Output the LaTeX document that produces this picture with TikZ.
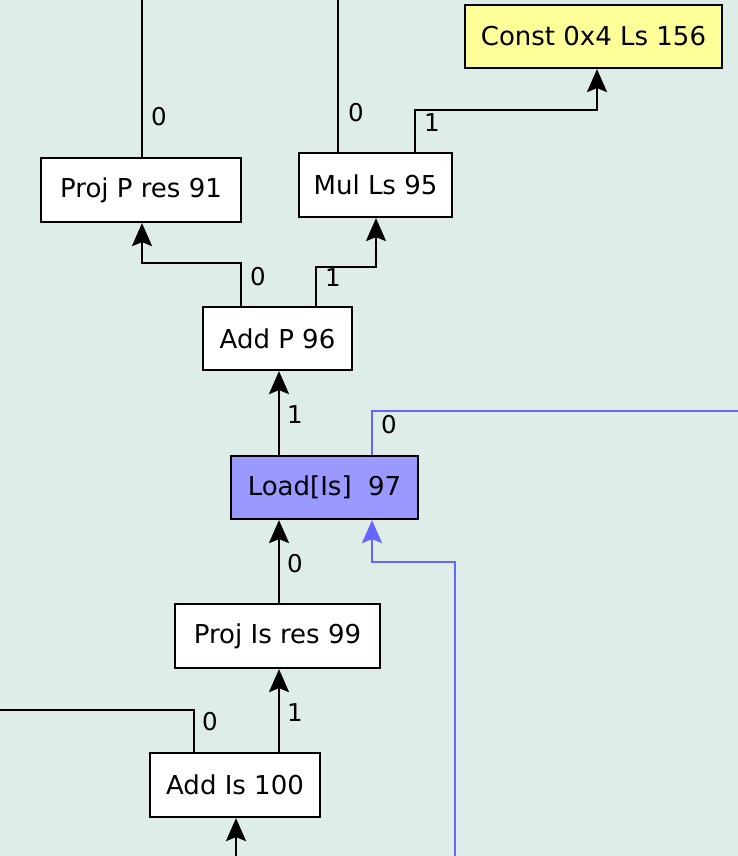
\documentclass[tikz,border=0pt]{standalone}
\usepackage{fontspec}
\setmainfont{DejaVu Sans}
\usetikzlibrary{arrows.meta}
\definecolor{bg}{RGB}{222,237,231}
\definecolor{yel}{RGB}{255,255,153}
\definecolor{lblue}{RGB}{153,153,255}
\definecolor{eblue}{RGB}{102,102,255}
\tikzset{
  box/.style={draw=black, line width=2.2pt, inner sep=0pt, fill=white,
    font=\fontsize{26}{30}\selectfont},
  lbl/.style={inner sep=0pt, font=\fontsize{24.5}{28}\selectfont},
  edge/.style={draw=black, line width=2.2pt},
  arr/.style={edge, -{Stealth[length=23pt, width=20pt, inset=4pt]}},
  bedge/.style={draw=eblue, line width=2.2pt},
  barr/.style={bedge, -{Stealth[length=23pt, width=20pt, inset=4pt]}},
}
\begin{document}
\begin{tikzpicture}[x=1pt, y=-1pt]
\useasboundingbox (0,0) rectangle (738,856);
\fill[bg] (0,0) rectangle (738,856);
\clip (0,0) rectangle (738,856);
% nodes
\node[box, fill=yel, minimum width=257pt, minimum height=63pt] (const) at (593.5,36.5) {Const 0x4 Ls 156};
\node[box, minimum width=200pt, minimum height=64pt] (projp) at (141,190) {Proj P res 91};
\node[box, minimum width=153pt, minimum height=64pt] (mul) at (375.5,185) {Mul Ls 95};
\node[box, minimum width=149pt, minimum height=63pt] (addp) at (277.5,338.5) {Add P 96};
\node[box, fill=lblue, minimum width=187pt, minimum height=63pt] (load) at (324.5,487.5) {Load[Is]\ \ 97};
\node[box, minimum width=205pt, minimum height=64pt] (projis) at (277.5,636) {Proj Is res 99};
\node[box, minimum width=170pt, minimum height=64pt] (addis) at (235,785) {Add Is 100};
% x positions
\coordinate (x142) at (142,0);
\coordinate (x338) at (338,0);
\coordinate (x415) at (415,0);
\coordinate (x597) at (597,0);
\coordinate (x241) at (241,0);
\coordinate (x316) at (316,0);
\coordinate (x376) at (376,0);
\coordinate (x279) at (279,0);
\coordinate (x372) at (372,0);
\coordinate (x194) at (194,0);
\coordinate (t1) at (142,-4);
\coordinate (t2) at (338,-4);
\coordinate (b1) at (455,860);
\coordinate (b2) at (236,860);
% edges
\draw[edge] (projp.north -| t1) -- (t1);
\draw[edge] (mul.north -| t2) -- (t2);
\draw[arr] (mul.north -| x415) -- ++(0,-42) -| (const.south -| x597);
\draw[arr] (addp.north -| x241) -- ++(0,-43) -| (projp.south -| x142);
\draw[arr] (addp.north -| x316) -- ++(0,-39) -| (mul.south -| x376);
\draw[arr] (load.north -| x279) -- (addp.south -| x279);
\draw[bedge] (load.north -| x372) -- ++(0,-44) -- ++(400,0);
\draw[barr] (b1) -- ++(0,-298) -| (load.south -| x372);
\draw[arr] (projis.north -| x279) -- (load.south -| x279);
\draw[arr] (addis.north -| x279) -- (projis.south -| x279);
\draw[edge] (addis.north -| x194) -- ++(0,-42) -- ++(-210,0);
\draw[arr] (b2) -- (addis.south -| b2);
% labels
\node[lbl] (l1) at (159,117) {0};
\node[lbl] (l2) at (356,113) {0};
\node[lbl] (l3) at (432,123) {1};
\node[lbl] (l4) at (258,277) {0};
\node[lbl] (l5) at (333,278) {1};
\node[lbl] (l6) at (295,415) {1};
\node[lbl] (l7) at (389,425) {0};
\node[lbl] (l8) at (295,564) {0};
\node[lbl] (l9) at (295,713) {1};
\node[lbl] (l10) at (210,722) {0};
\end{tikzpicture}
\end{document}
